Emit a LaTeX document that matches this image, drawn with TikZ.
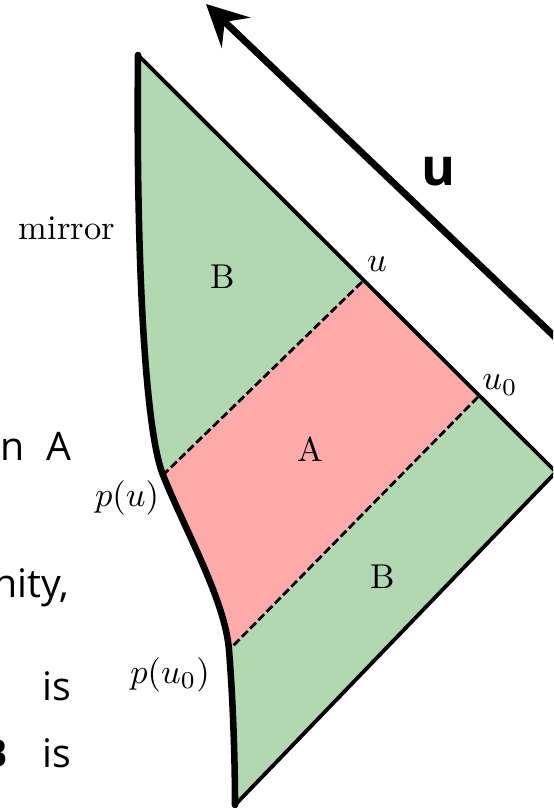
\documentclass[tikz,border=0pt]{standalone}
\usepackage{fontspec}
\newfontfamily\uifont{Open Sans}
\usepackage{xcolor}
\usetikzlibrary{arrows.meta,positioning}
\definecolor{regiongreen}{RGB}{178,216,178}
\definecolor{regionpink}{RGB}{255,170,170}

\begin{document}
\begin{tikzpicture}[
			x=0.29pt, y=-0.29pt,
			edge/.style={line width=1.1pt, line join=miter},
			mirrorline/.style={line width=1.9pt, line cap=round},
			cut/.style={line width=0.8pt, dash pattern=on 2.4pt off 1pt},
			lbl/.style={inner sep=1pt, font=\normalsize},
			sidetext/.style={anchor=base east, inner sep=0pt, font=\uifont\fontsize{11.4}{13}\selectfont},
			arrow/.style={-{Stealth[length=12pt,width=12pt,inset=4.5pt]}, line width=2pt}
			]
			\useasboundingbox (0,0) rectangle (553,808);
			\clip (0,0) rectangle (553,808);
			
			\coordinate (top) at (138,55);
			\coordinate (right) at (556,472);
			\coordinate (bottom) at (235,805);
			\coordinate (u) at (362,282);
			\coordinate (u0) at (478,397);
			\coordinate (pu) at (163,475);
			\coordinate (pu0) at (229,650);
			\coordinate (arrowtail) at (575,356);
			\coordinate (arrowtip) at (206,4);
			
			\fill[regiongreen] (top) -- (right) -- (bottom)
				.. controls (235,760) and (233,700) .. (pu0)
				.. controls (225,600) and (185,530) .. (pu)
				.. controls (145,430) and (136,260) .. (top) -- cycle;
			\fill[regionpink] (u) -- (u0) -- (pu0)
				.. controls (225,600) and (185,530) .. (pu) -- cycle;
			
			\draw[cut] (u) -- (pu);
			\draw[cut] (u0) -- (pu0);
			\draw[edge] (bottom) -- (right) -- (top);
			\draw[mirrorline] (top)
				.. controls (136,260) and (145,430) .. (pu)
				.. controls (185,530) and (225,600) .. (pu0)
				.. controls (233,700) and (235,760) .. (bottom);
			
			\draw[arrow] (arrowtail) -- (arrowtip);
			\node[inner sep=0pt, font=\uifont\bfseries\fontsize{15}{17}\selectfont] (dirlabel) at (438,172) {u};
			
			\node[lbl] (mirrorlabel) at (67,228) {mirror};
			\node[lbl] (btoplabel) at (223,277) {B};
			\node[lbl] (alabel) at (310,449) {A};
			\node[lbl] (bbottomlabel) at (383,577) {B};
			\node[lbl] (ulabel) at (377,264) {$u$};
			\node[lbl] (uzerolabel) at (500,385) {$u_0$};
			\node[lbl] (pulabel) at (127,498) {$p(u)$};
			\node[lbl] (puzerolabel) at (170,675) {$p(u_0)$};
			
			\node[sidetext] (textone) at (72,460) {n\hspace{6.3pt}A};
			\node[sidetext] (texttwo) at (70,597) {nity,};
			\node[sidetext] (textthree) at (72,700) {is};
			\node[sidetext] (textfour) at (72,767) {\textbf{B}\hspace{10pt}is};
			
		\end{tikzpicture}
\end{document}
